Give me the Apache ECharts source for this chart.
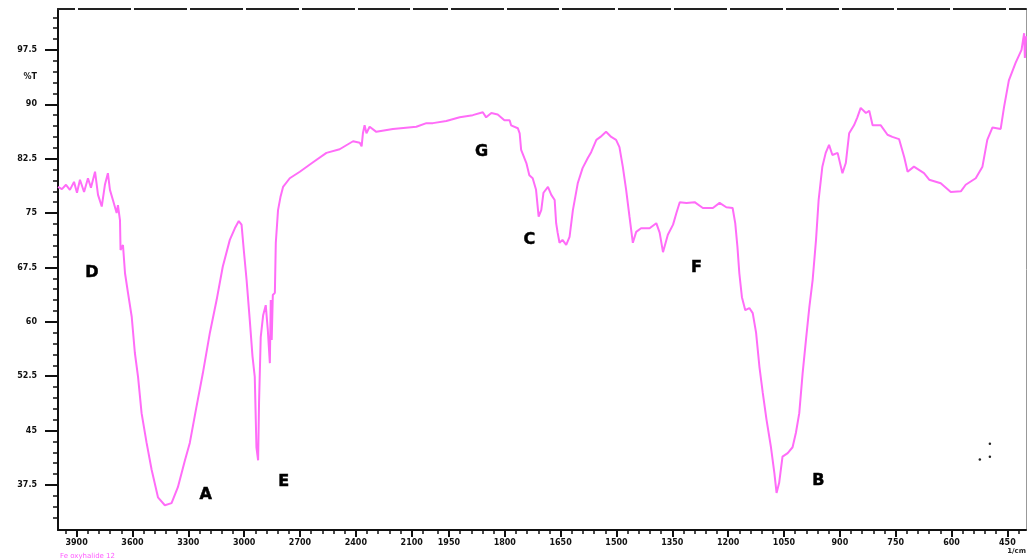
<!DOCTYPE html>
<html><head><meta charset="utf-8">
<script src="https://cdn.jsdelivr.net/npm/echarts@6/dist/echarts.min.js"></script>
<style>html,body{margin:0;padding:0;background:#fff}#c{width:1029px;height:560px}</style>
</head><body><div id="c"></div>
<script>
// Wavenumber (1/cm) and transmittance (%T)
const wavenumber = [4000,3979,3957,3936,3914,3898,3882,3860,3839,3823,3801,3785,3765,3748,3732,3721,3705,3685,3678,3667,3664,3651,3640,3624,3604,3587,3570,3551,3524,3497,3463,3426,3390,3356,3318,3292,3256,3222,3184,3148,3115,3077,3050,3029,3014,3002,2987,2970,2955,2943,2934,2925,2920,2911,2898,2884,2873,2862,2857,2852,2846,2835,2830,2818,2805,2791,2755,2701,2630,2558,2487,2415,2379,2369,2362,2353,2343,2326,2290,2201,2075,2021,
1993,1957,1921,1886,1859,1850,1836,1819,1801,1787,1783,1765,1760,1756,1742,1734,1725,1716,1709,1702,1696,1684,1675,1666,1662,1658,1653,1645,1635,1626,1617,1604,1591,1577,1568,1554,1543,1528,1514,1501,1492,1483,1474,1465,1456,1447,1434,1411,1393,1384,1375,1362,1348,1339,1330,1312,1290,1268,1241,1223,1205,1188,1181,1175,1170,1163,1154,1143,1134,1125,1116,1107,1097,1085,1076,1070,1063,1054,1040,1027,1018,1009,1000,991,982,973,964,957,947,938,929,920,906,893,884,875,862,853,844,830,821,812,790,772,759,741,727,718,701,674,660,629,602,575,562,535,517,504,490,468,459,446,428,412,405,403,400];
const transmittance = [78.6,78.3,78.9,78.2,79.3,77.8,79.6,77.9,79.8,78.5,80.7,77.5,75.9,78.9,80.5,78.2,76.8,75.0,76.1,74.0,69.9,70.6,66.7,64.0,60.7,55.7,52.4,47.4,43.3,39.6,35.8,34.7,35.0,37.2,40.9,43.3,48.3,52.9,58.5,63.0,67.6,71.3,72.9,73.9,73.4,69.9,65.8,60.3,55.2,52.4,42.7,40.9,48.8,57.9,60.9,62.3,58.9,54.3,63.0,57.5,63.7,64.0,70.9,75.4,77.2,78.6,79.8,80.7,82.0,83.3,83.8,84.9,84.7,84.2,86.0,87.1,86.0,86.9,86.2,86.6,86.9,87.4,
87.4,87.7,88.2,88.5,88.9,88.2,88.8,88.6,87.8,87.8,87.1,86.7,86.0,83.7,81.9,80.2,79.8,78.2,74.5,75.4,77.8,78.6,77.5,76.8,73.6,72.3,70.9,71.3,70.6,71.7,75.4,79.1,81.2,82.6,83.4,85.1,85.5,86.2,85.5,85.1,84.1,81.4,78.2,74.5,70.9,72.4,72.9,72.9,73.6,72.3,69.6,72.0,73.4,75.0,76.5,76.4,76.5,75.7,75.7,76.4,75.8,75.7,73.6,70.3,66.7,63.4,61.6,61.9,61.2,58.5,53.8,50.2,46.5,42.7,39.2,36.4,37.8,41.4,41.9,42.7,44.7,47.4,52.9,57.5,62.0,65.8,71.3,76.8,81.4,83.3,84.4,83.0,83.3,80.5,81.9,86.0,87.1,88.2,89.5,88.8,89.1,87.1,87.1,85.8,85.5,85.2,82.7,80.7,81.4,80.5,79.6,79.1,77.9,78.0,78.9,79.8,81.4,85.1,86.8,86.6,89.6,93.3,95.7,97.5,99.8,96.4,99.4];
const xTickLabels = [3900,3600,3300,3000,2700,2400,2100,1950,1800,1650,1500,1350,1200,1050,900,750,600,450];
const yTickLabels = [37.5,45,52.5,60,67.5,75,82.5,90,97.5];
const yAxisName = '%T';
const yAxisNameAt = 93.75;
const xAxisName = '1/cm';
const peakLetters = ['D','A','E','G','C','F','B'];
const peakWavenumber = [3818,3206,2787,1862,1734,1285,958];
const peakT = [66.7,36.1,37.9,83.4,71.3,67.4,38.1];
const speckWavenumber = [497,497,524];
const speckT = [43.2,41.4,41.0];
const caption = 'Fe oxyhalide 12';

// Spectrometer-style axis: 2x expansion below 2000 1/cm
function toAxis(w){ return w >= 2000 ? 4000 - w : 2000 + (2000 - w) * 2; }
function fromAxis(t){ return t <= 2000 ? 4000 - t : 2000 - (t - 2000) / 2; }

const majorT = xTickLabels.map(toAxis);
const minorT = [];
for (let w = 3960; w >= 2040; w -= 60) minorT.push(toAxis(w));
for (let w = 1980; w >= 420; w -= 30) minorT.push(toAxis(w));
const minorY = [];
for (let v = 33; v <= 102.01; v += 1.5) minorY.push(+v.toFixed(2));

const X_MIN = 0, X_MAX = 5200, Y_MIN = 31.29, Y_MAX = 103.14;
const labelFont = {fontFamily:'DejaVu Sans', fontSize:8, fontWeight:'bold', color:'#111'};

const chart = echarts.init(document.getElementById('c'));
chart.setOption({
  animation:false,
  backgroundColor:'#fff',
  title:{text:caption, left:55, top:548, textStyle:{fontSize:7, color:'#ff5cff', fontWeight:'normal', fontFamily:'DejaVu Sans'}},
  grid:{left:58, top:9, width:969, height:521},
  xAxis:[
    {type:'value', min:X_MIN, max:X_MAX, position:'bottom',
     axisLine:{onZero:false, lineStyle:{color:'#111', width:2}},
     axisTick:{customValues:majorT, length:7, lineStyle:{color:'#111', width:2}},
     axisLabel:Object.assign({customValues:majorT, margin:9, formatter:v=>String(Math.round(fromAxis(v)))}, labelFont),
     splitLine:{show:false},
     name:xAxisName, nameLocation:'end', nameGap:0,
     nameTextStyle:{align:'right', verticalAlign:'top', padding:[18,0,0,0], fontSize:7, fontWeight:'bold', color:'#222', fontFamily:'DejaVu Sans'}},
    {type:'value', min:X_MIN, max:X_MAX, position:'bottom',
     axisLine:{show:false, onZero:false},
     axisTick:{customValues:minorT, length:4, lineStyle:{color:'#111', width:1.5}},
     axisLabel:{show:false}, splitLine:{show:false}},
    {type:'value', min:X_MIN, max:X_MAX, position:'top',
     axisLine:{onZero:false, lineStyle:{color:'#222', width:2}},
     axisTick:{customValues:majorT, length:3, lineStyle:{color:'#fff', width:3}},
     axisLabel:{show:false}, splitLine:{show:false}},
    {type:'value', min:X_MIN, max:X_MAX, position:'top', z:10,
     axisLine:{show:false, onZero:false},
     axisTick:{customValues:majorT, inside:true, length:3, lineStyle:{color:'#fff', width:3}},
     axisLabel:{show:false}, splitLine:{show:false}}
  ],
  yAxis:[
    {type:'value', min:Y_MIN, max:Y_MAX, position:'left',
     axisLine:{onZero:false, lineStyle:{color:'#111', width:2}},
     axisTick:{customValues:yTickLabels, length:13, lineStyle:{color:'#111', width:2}},
     axisLabel:Object.assign({customValues:yTickLabels.concat([yAxisNameAt]), margin:21,
       formatter:v=>Math.abs(v-yAxisNameAt)<1e-6 ? yAxisName : String(v)}, labelFont),
     splitLine:{show:false}},
    {type:'value', min:Y_MIN, max:Y_MAX, position:'left',
     axisLine:{show:false, onZero:false},
     axisTick:{customValues:minorY, length:5, lineStyle:{color:'#111', width:1.5}},
     axisLabel:{show:false}, splitLine:{show:false}},
    {type:'value', min:Y_MIN, max:Y_MAX, position:'right',
     axisLine:{onZero:false, lineStyle:{color:'#999', width:1}},
     axisTick:{show:false}, axisLabel:{show:false}, splitLine:{show:false}}
  ],
  series:[
    {type:'line', xAxisIndex:0, yAxisIndex:0, showSymbol:false, symbol:'none',
     data:wavenumber.map((w,i)=>[toAxis(w), transmittance[i]]),
     lineStyle:{color:'#ff6cf8', width:2}, z:3},
    {type:'scatter', xAxisIndex:0, yAxisIndex:0, symbolSize:0, itemStyle:{opacity:1},
     data:peakWavenumber.map((w,i)=>[toAxis(w), peakT[i], peakLetters[i]]),
     label:{show:true, position:'inside', formatter:p=>p.data[2], fontSize:16, fontWeight:900, color:'#000',
            textBorderColor:'#000', textBorderWidth:0.5, fontFamily:'DejaVu Sans'}},
    {type:'scatter', xAxisIndex:0, yAxisIndex:0, symbolSize:2.5, itemStyle:{color:'#222', opacity:1},
     data:speckWavenumber.map((w,i)=>[toAxis(w), speckT[i]])}
  ]
});
</script></body></html>
